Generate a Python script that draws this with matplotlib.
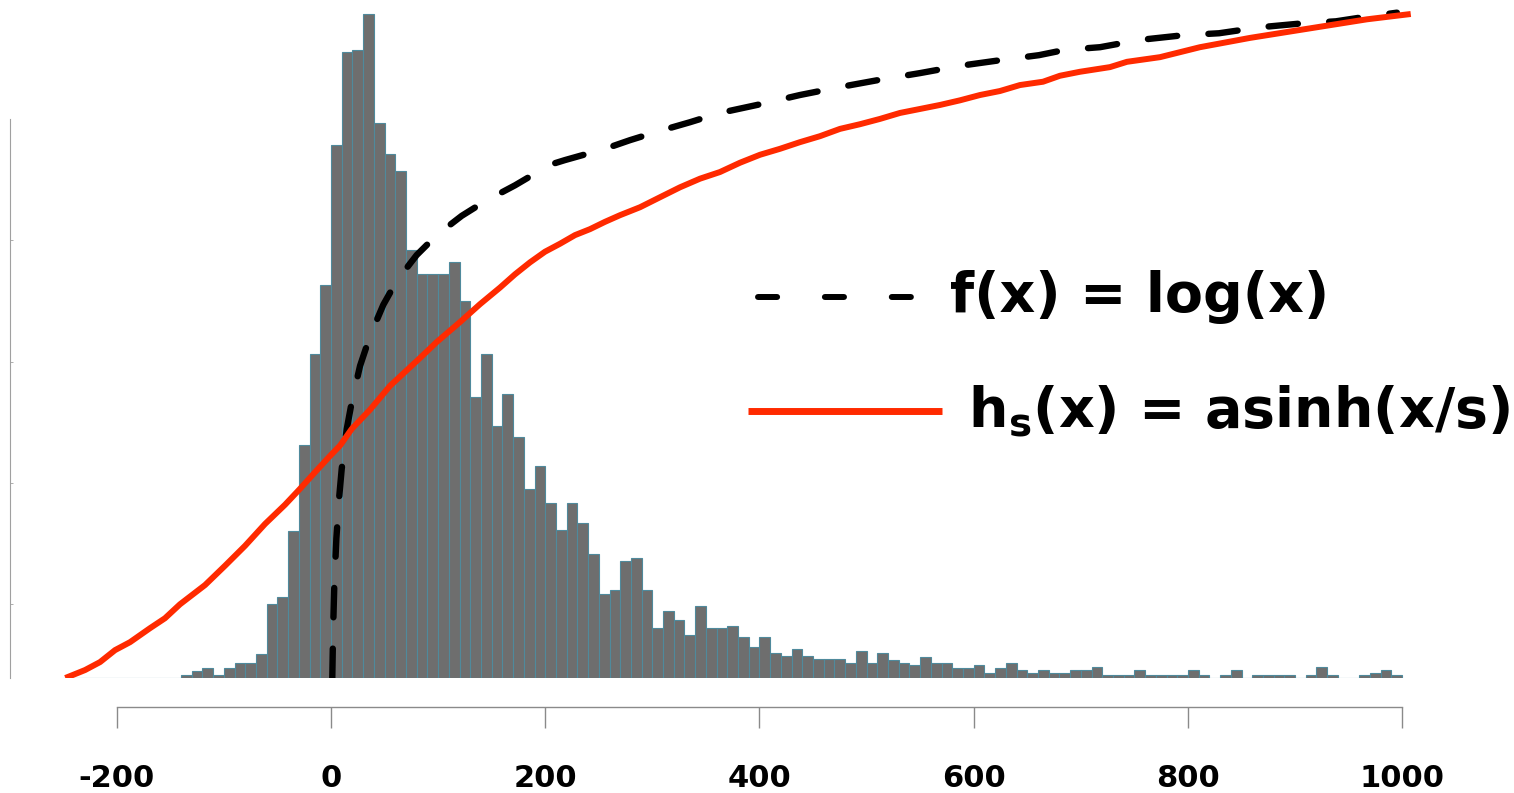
import numpy as np
import matplotlib.pyplot as plt
from matplotlib.lines import Line2D

# histogram: 10-unit bins from -250 to 1000, heights scaled so the tallest bin = 100
bin_left = np.arange(-250, 1000, 10)
counts = [0, 0, 0, 0, 0, 0, 0, 0, 0, 0, 0,
          0.5, 1.1, 1.5, 0.4, 1.5, 2.2, 2.2, 3.6, 11.1, 12.2, 22.2, 35.1, 48.8, 59.2,
          80.3, 94.3, 94.6, 100, 83.6, 78.9, 76.4, 64.5, 60.9, 60.9,
          60.9, 62.7, 56.8, 42.3, 48.8, 38.0,
          42.7, 36.3, 28.4, 32.0, 26.3, 22.3, 26.3, 23.3, 18.7, 12.6,
          13.3, 17.6, 18.0, 13.3, 7.6, 10.1, 8.7, 6.5, 10.8, 7.6,
          7.6, 7.9, 6.1, 4.7, 6.1, 3.7, 3.3, 4.4, 3.3, 2.9,
          2.9, 2.9,
          2.3, 4.1, 2.3, 3.8, 2.7, 2.3, 2.0, 3.1, 2.3, 2.3,
          1.5, 1.5, 1.9, 0.8, 1.5, 2.3, 1.25, 0.8, 1.25, 0.8,
          0.8, 1.25, 1.25, 1.6, 0.43, 0.43, 0.43, 1.25, 0.43, 0.43,
          0.43, 0.43, 1.25, 0.43, 0, 0.43, 1.25, 0, 0.43, 0.43,
          0.43, 0.43, 0, 0.43, 1.6, 0.43, 0, 0, 0.43, 0.8,
          1.25, 0.43]

# h_s(x) = asinh(x/s)
asinh_x = [-248, -229.6, -215.6, -201.6, -187.6, -169, -155, -141, -117.6, -99,
           -80.3, -61.6, -42.9, -28.9, -14.9, 0, 8.4, 19.3, 36.4, 55.1,
           83.1, 98.7, 120.4, 139.1, 157.8, 171.8, 185.8, 199.8,
           213.8, 227.8, 241.8, 255.8, 269.8, 288.5, 307.1, 325.8, 344.5, 363.1,
           381.8, 400.5, 419.2, 437.8, 456.5, 475.2, 493.8, 512.5, 531.2, 549.9,
           568.5, 587.2, 605.9, 624.5, 643.2, 664.7, 680.5, 699.2, 727.2, 743.1,
           773.9, 811.2, 857.9, 904.6, 967.1, 1008]
asinh_y = [0, 1.2, 2.4, 4.2, 5.4, 7.5, 9.0, 11.1, 14.0, 16.9,
           19.9, 23.2, 26.1, 28.5, 31.0, 33.6, 35.0, 37.5, 40.4, 44.0,
           48.2, 50.6, 53.6, 56.3, 58.8, 60.8, 62.6, 64.2,
           65.4, 66.7, 67.6, 68.7, 69.7, 70.9, 72.4, 73.9, 75.2, 76.2,
           77.6, 78.8, 79.7, 80.7, 81.6, 82.7, 83.4, 84.2, 85.1, 85.7,
           86.3, 87.0, 87.8, 88.4, 89.3, 89.8, 90.7, 91.3, 92.0, 92.8,
           93.5, 95.0, 96.4, 97.6, 99.2, 100.0]

# f(x) = log(x)
log_x = [1.2, 2, 3, 5, 7.5, 10, 14.7, 19.3, 27.1, 36.4, 48.8, 61.3, 80.0, 98.7,
         122.0, 143.8, 171.8, 204.4, 218.4, 255.8, 279.1, 307.1, 335.1, 363.1,
         400.5, 437.8, 475.2, 512.5, 549.9, 587.2, 627.3, 660.9, 685.2, 717.9,
         755.2, 795.4, 829, 867.3, 907.4, 938.2, 962.5, 995.1]
log_y = [0, 7.5, 13.5, 21.0, 27.0, 31.5, 37.5, 41.5, 47.0, 51.5, 56.2, 59.8, 63.7, 66.7,
         69.6, 71.8, 74.2, 77.3, 78.0, 79.7, 81.0, 82.4, 83.7, 85.1,
         86.4, 87.8, 89.0, 90.1, 91.1, 92.2, 93.1, 93.8, 94.6, 95.0,
         96.1, 96.8, 97.1, 98.0, 98.6, 98.9, 99.5, 100.2]

tick_values = [-200, 0, 200, 400, 600, 800, 1000]
tick_labels = ['-200', '0', '200', '400', '600', '800', '1000']
left_ticks = [11.1, 29.4, 47.6, 66.0]

W, H = 1514, 793
fig = plt.figure(figsize=(W / 100, H / 100), dpi=100)
ax = fig.add_axes([52.5 / W, 115 / H, 1371.1 / W, 673.96 / H])
ax.set_xlim(-260, 1020)
ax.set_ylim(0, 101.5)

ax.bar(bin_left, counts, width=10, align='edge', color='#6e6e6e',
       edgecolor='#4f8a9c', linewidth=0.8, zorder=1)
ax.plot(asinh_x, asinh_y, color='#ff2a00', lw=4.3, solid_capstyle='butt', zorder=3)
ax.plot(log_x, log_y, color='black', lw=4.6, dash_capstyle='round',
        linestyle=(0, (4.6, 4.9)), zorder=2)

for s in ['top', 'right']:
    ax.spines[s].set_visible(False)
ax.spines['bottom'].set_position(('outward', 20.9))
ax.spines['bottom'].set_bounds(-200, 1000)
ax.spines['bottom'].set_color('#8a8a8a')
ax.spines['bottom'].set_linewidth(1.0)
ax.spines['left'].set_position(('outward', 30.6))
ax.spines['left'].set_bounds(0, 84.2)
ax.spines['left'].set_color('#a0a0a0')
ax.spines['left'].set_linewidth(0.8)

ax.set_xticks(tick_values)
ax.set_xticklabels(tick_labels, fontsize=22, fontweight='bold')
ax.tick_params(axis='x', direction='out', length=15, width=1.0, color='#8a8a8a', pad=26)
ax.set_yticks(left_ticks)
ax.set_yticklabels([])
ax.tick_params(axis='y', direction='in', length=2, width=0.6, color='#a0a0a0')


def px(x, y):
    return x / W, 1 - y / H


# legend drawn by hand
x0, y0 = px(758, 297)
x1, _ = px(912, 297)
fig.add_artist(Line2D([x0, x1], [y0, y0], transform=fig.transFigure, color='black',
                      lw=4.3, dash_capstyle='round', linestyle=(0, (3.2, 8.0))))
fig.text(*px(950, 297), 'f(x) = log(x)', fontsize=40, fontweight='bold',
         ha='left', va='center')

x0, y0 = px(748, 411)
x1, _ = px(942, 411)
fig.add_artist(Line2D([x0, x1], [y0, y0], transform=fig.transFigure,
                      color='#ff2a00', lw=5, solid_capstyle='butt'))
fig.text(*px(968, 411), r'h$_\mathbf{s}$(x) = asinh(x/s)', fontsize=40,
         fontweight='bold', ha='left', va='center')

fig.savefig('out.png', dpi=100)
